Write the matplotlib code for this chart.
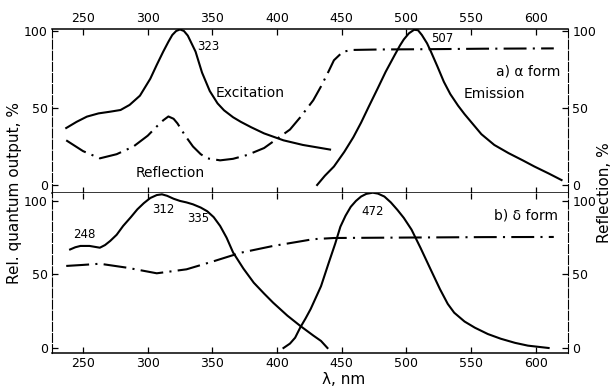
import numpy as np
import matplotlib
matplotlib.use('Agg')
import matplotlib.pyplot as plt

plt.rcParams['font.family'] = ['DejaVu Sans']

# a) alpha form
exc_a_nm = [237, 245, 253, 262, 271, 279, 286, 294, 302, 307, 312, 316, 319, 322, 325,
            328, 331, 337, 342, 348, 354, 359, 366, 372, 380, 390, 405, 420, 441]
exc_a = [37, 41, 44.4, 46.5, 47.6, 48.7, 52, 58, 69, 78, 86.6, 93, 97.4, 100, 101,
         100, 97, 86.6, 73, 61, 53, 48.5, 44, 41, 37.5, 33.5, 29, 26, 23]

refl_a_nm = [237, 250, 263, 276, 289, 300, 307, 312, 316, 320, 323, 329, 335, 341, 346,
             356, 366, 377, 390, 400, 410, 418, 428, 434, 440, 444, 451, 459, 480, 520,
             560, 614]
refl_a = [29, 22, 17.3, 20, 25, 32, 38, 42, 44.5, 43, 40, 32, 25, 20, 17.3,
          16, 17, 19.5, 24, 30, 36, 44, 55, 64, 74, 81, 86.6, 87.7, 88, 88.2,
          88.5, 88.7]

em_a_nm = [431, 437, 444, 452, 459, 465, 471, 478, 484, 491, 495, 498, 502, 506, 509,
           512, 516, 519, 524, 529, 534, 540, 545, 550, 558, 568, 579, 590, 599, 610, 620]
em_a = [0, 6, 12, 21.5, 31, 40.5, 51, 63, 73.5, 84.4, 90.5, 94.5, 98.5, 100.8, 100.5,
        97.4, 92, 86.6, 77, 67, 59, 51.5, 46, 41, 33, 26, 20.7, 16, 12, 7.5, 3.2]

# b) delta form
exc_d_nm = [240, 244, 248, 255, 263, 267, 271, 276, 281, 287, 292, 297, 302, 307, 311,
            315, 320, 325, 330, 335, 341, 346, 351, 356, 361, 366, 374, 382, 390, 397,
            408, 418, 428, 434, 439]
exc_d = [67, 68.5, 69.4, 69.4, 68.2, 70, 72.8, 77, 83, 89, 94.3, 98.5, 102, 104, 104.5,
         103.5, 101.5, 100, 99, 97.7, 95.5, 93, 89, 83, 75, 65, 54, 44.4, 37, 30.8,
         22, 15, 8.5, 4.8, 0]

refl_d_nm = [237, 250, 263, 284, 307, 330, 351, 372, 397, 418, 428, 444, 480, 520, 560, 614]
refl_d = [55.8, 56.5, 57.3, 54.6, 50.8, 53.5, 59, 64.8, 69.4, 72.5, 74, 74.8, 75, 75.2,
          75.4, 75.5]

em_d_nm = [405, 410, 414, 418, 422, 426, 434, 440, 445, 449, 453, 457, 461, 465, 469,
           474, 478, 483, 488, 493, 498, 504, 511, 519, 526, 532, 537, 545, 553, 563,
           573, 584, 594, 603, 610]
em_d = [0, 3, 7, 14, 20, 26.5, 42, 58, 71, 82.5, 90, 96, 100, 103, 104.8,
        105.6, 105, 103, 99, 94, 88.5, 80.5, 68, 53, 40, 30, 24, 18, 13.8, 9.5,
        6.3, 3.5, 1.6, 0.7, 0]

xticks = [250, 300, 350, 400, 450, 500, 550, 600]
yticks = [0, 50, 100]

dashdot = (0, (11, 3, 1, 3))

fig = plt.figure(figsize=(6.14, 3.86), dpi=100)
ax1 = fig.add_axes([0.0847, 0.5, 0.8404, 0.4249])
ax2 = fig.add_axes([0.0847, 0.0855, 0.8404, 0.4145])

for ax in (ax1, ax2):
    ax.set_xlim(226, 625)
    ax.set_xticks(xticks)
    ax.set_yticks(yticks)
    ax.tick_params(direction='in', length=4, width=0.9, labelsize=9,
                   top=True, bottom=True, left=True, right=True,
                   labelleft=True, labelright=True, pad=3)
    for s in ('left', 'right'):
        ax.spines[s].set_linewidth(0.8)
        ax.spines[s].set_linestyle((0, (8, 2)))
    for s in ('top', 'bottom'):
        ax.spines[s].set_linewidth(1.1)

ax1.set_ylim(-5.2, 101.3)
ax2.set_ylim(-3.4, 105.4)
ax1.tick_params(labeltop=True, labelbottom=False)
ax2.tick_params(labeltop=False, labelbottom=True)
ax2.spines['top'].set_visible(False)

ax1.plot(exc_a_nm, exc_a, color='black', lw=1.5)
ax1.plot(refl_a_nm, refl_a, color='black', lw=1.5, linestyle=dashdot)
ax1.plot(em_a_nm, em_a, color='black', lw=1.5)

ax2.plot(exc_d_nm, exc_d, color='black', lw=1.5)
ax2.plot(refl_d_nm, refl_d, color='black', lw=1.5, linestyle=dashdot)
ax2.plot(em_d_nm, em_d, color='black', lw=1.5)

ax1.text(347, 90, '323', fontsize=8.5, ha='center', va='center')
ax1.text(379, 60, 'Excitation', fontsize=10, ha='center', va='center')
ax1.text(317, 8, 'Reflection', fontsize=10, ha='center', va='center')
ax1.text(528, 95, '507', fontsize=8.5, ha='center', va='center')
ax1.text(619, 74, 'a) \u03b1 form', fontsize=10, ha='right', va='center')
ax1.text(568, 59, 'Emission', fontsize=10, ha='center', va='center')

ax2.text(251, 77, '248', fontsize=8.5, ha='center', va='center')
ax2.text(312, 94, '312', fontsize=8.5, ha='center', va='center')
ax2.text(339, 88, '335', fontsize=8.5, ha='center', va='center')
ax2.text(474, 92.5, '472', fontsize=8.5, ha='center', va='center')
ax2.text(617, 90, 'b) \u03b4 form', fontsize=10, ha='right', va='center')

fig.text(0.023, 0.5, 'Rel. quantum output, %', rotation=90, fontsize=11,
         ha='center', va='center')
fig.text(0.985, 0.5, 'Reflection, %', rotation=90, fontsize=11,
         ha='center', va='center')
fig.text(0.56, 0.018, '\u03bb, nm', fontsize=11, ha='center', va='center')

fig.savefig('out.png', dpi=100)
